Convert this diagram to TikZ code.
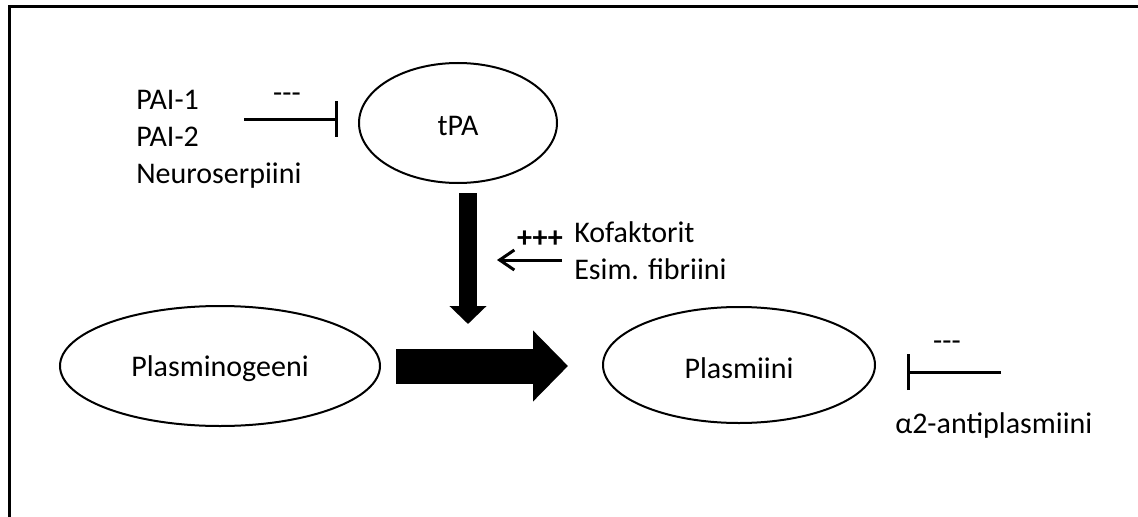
\documentclass[tikz,border=0pt]{standalone}
\usepackage{fontspec}
\setmainfont{Carlito}
\usetikzlibrary{shapes.geometric,arrows.meta,calc}

\begin{document}
\begin{tikzpicture}[x=0.75pt,y=0.75pt,yscale=-1,xscale=1,
  oval/.style={draw,ellipse,line width=1.5pt,inner sep=0pt},
  txt/.style={inner sep=0pt,font=\fontsize{22.5}{27.75}\selectfont},
  inhib/.style={line width=2.25pt,-{Bar[width=27pt]}},
  thinarrow/.style={line width=2.25pt,-{Straight Barb[length=11pt,width=15pt,line width=2.25pt]}}]
\useasboundingbox (0,0) rectangle (1138,517);
% frame
\draw [line width=2.25pt] (9,517) |- (1138,7);
% ovals
\node [oval,minimum width=148.5pt,minimum height=90pt] (tpa) at (458,123) {};
\node [oval,minimum width=240pt,minimum height=90pt] (plgn) at (220,366) {};
\node [oval,minimum width=204pt,minimum height=87pt] (plm) at (739,365) {};
\node [txt] (tpalbl) at ($(tpa.center)+(0,3)$) {tPA};
\node [txt] (plgnlbl) at ($(plgn.center)+(0,3)$) {Plasminogeeni};
\node [txt] (plmlbl) at ($(plm.center)+(0,3)$) {Plasmiini};
% inhibitors of tPA
\node [txt,align=left,anchor=west] (pai) at (136,139) {PAI-1\\PAI-2\\Neuroserpiini};
\coordinate (paistart) at (244,119);
\coordinate (paiend) at (338,119);
\draw [inhib] (paistart) -- (paiend);
\node [txt] (paiminus) at (287,98) {-{}-{}-};
% tPA acts on plasminogen
\coordinate (tpadown) at (468,193);
\coordinate (tpatip) at (468,324);
\draw [line width=13.5pt,-{Triangle[length=13.5pt,width=27pt]}] (tpadown) -- (tpatip);
\coordinate (convstart) at (396,366);
\coordinate (convtip) at (568,366);
\draw [line width=26.25pt,-{Triangle[length=26.25pt,width=51.75pt]}] (convstart) -- (convtip);
% cofactors
\node [txt,align=left,anchor=west] (kof) at (574,251) {Kofaktorit\\Esim. fibriini};
\coordinate (kofstart) at (562,260);
\coordinate (kofend) at (497,260);
\draw [thinarrow] (kofstart) -- (kofend);
\node [txt,font=\fontsize{22.5}{27.75}\selectfont\bfseries] (kofplus) at (540,239) {+++};
% antiplasmin
\coordinate (apstart) at (1001,372);
\coordinate (apend) at (907,372);
\draw [inhib] (apstart) -- (apend);
\node [txt] (apminus) at (947,346) {-{}-{}-};
\node [txt,anchor=west] (ap) at (895,425) {α2-antiplasmiini};
\end{tikzpicture}
\end{document}
